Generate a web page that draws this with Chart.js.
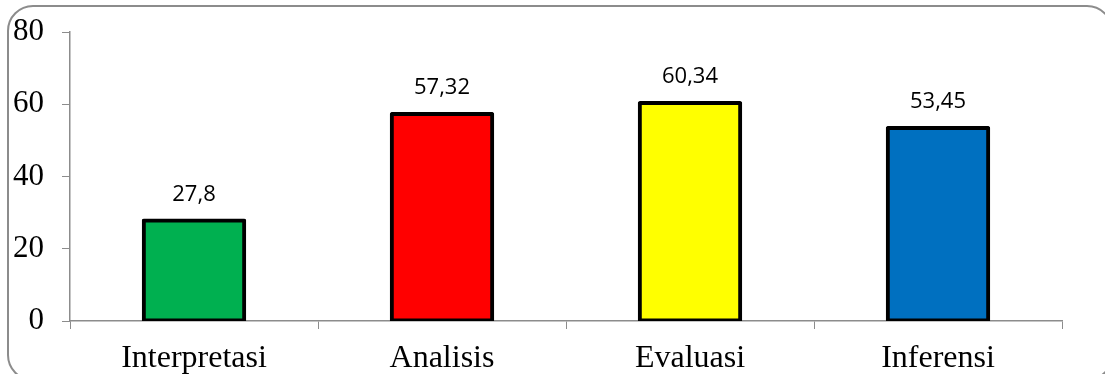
<!DOCTYPE html>
<html>
<head>
<meta charset="utf-8">
<script src="https://cdn.jsdelivr.net/npm/chart.js@4.4.0/dist/chart.umd.min.js"></script>
<style>
  html, body { margin:0; padding:0; background:#fff; overflow:hidden; }
  #wrap { position:relative; width:1105px; height:374px; }
  #frame { position:absolute; left:7px; top:5px; width:1106px; height:376px;
           border:2px solid #8c8c8c; border-radius:26px; box-sizing:border-box; }
  canvas { position:absolute; left:0; top:0; }
</style>
</head>
<body>
<div id="wrap">
  <div id="frame"></div>
  <canvas id="c" width="1105" height="374"></canvas>
</div>
<script>
const categories = ["Interpretasi", "Analisis", "Evaluasi", "Inferensi"];
const values = [27.8, 57.32, 60.34, 53.45];
const valueLabels = ["27,8", "57,32", "60,34", "53,45"];
const barColors = ["#00b050", "#ff0000", "#ffff00", "#0070c0"];
const yTicks = [0, 20, 40, 60, 80];

const labelPlugin = {
  id: 'valueLabels',
  afterDatasetsDraw(chart) {
    const ctx = chart.ctx;
    const meta = chart.getDatasetMeta(0);
    ctx.save();
    ctx.font = '22px "Open Sans", "Noto Sans", sans-serif';
    ctx.fillStyle = '#000';
    ctx.textAlign = 'center';
    ctx.textBaseline = 'alphabetic';
    meta.data.forEach((el, i) => {
      ctx.fillText(valueLabels[i], el.x, el.y - 20);
    });
    ctx.restore();
  }
};

new Chart(document.getElementById('c'), {
  type: 'bar',
  data: {
    labels: categories,
    datasets: [{
      data: values,
      backgroundColor: barColors,
      borderColor: '#000',
      borderWidth: 4,
      borderSkipped: false,
      borderRadius: 2,
      inflateAmount: 2,
      categoryPercentage: 1,
      barPercentage: 0.405
    }]
  },
  options: {
    responsive: false,
    animation: false,
    devicePixelRatio: 1,
    layout: { padding: { left: 0, top: 32, right: 43, bottom: 0 } },
    plugins: { legend: { display: false }, tooltip: { enabled: false } },
    scales: {
      x: {
        grid: { display: true, drawOnChartArea: false, drawTicks: true, tickLength: 8, color: '#8c8c8c', offset: true },
        border: { display: true, color: '#8c8c8c', width: 1.5 },
        ticks: { color: '#000', padding: 10, font: { family: '"Liberation Serif", "Times New Roman", serif', size: 32 } },
        afterFit(scale) { scale.height = 53; scale.paddingLeft = 0; scale.paddingRight = 0; }
      },
      y: {
        min: 0, max: 80,
        afterBuildTicks(scale) { scale.ticks = yTicks.map(v => ({ value: v })); },
        grid: { display: true, drawOnChartArea: false, drawTicks: true, tickLength: 8, color: '#8c8c8c' },
        border: { display: true, color: '#8c8c8c', width: 1.5 },
        ticks: { color: '#000', padding: 18, font: { family: '"Liberation Serif", "Times New Roman", serif', size: 31 } },
        afterFit(scale) { scale.width = 70; scale.paddingTop = 0; scale.paddingBottom = 0; }
      }
    }
  },
  plugins: [labelPlugin]
});
</script>
</body>
</html>
